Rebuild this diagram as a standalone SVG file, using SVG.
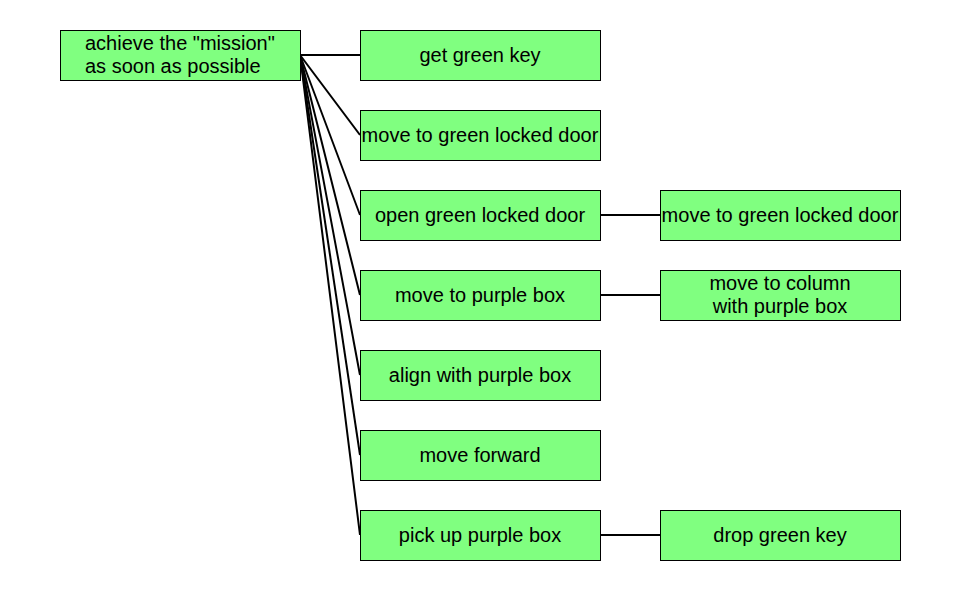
<svg xmlns="http://www.w3.org/2000/svg" width="960" height="590" viewBox="0 0 960 590">
<style>
.box{fill:#80ff80;stroke:#000;stroke-width:1}
text{font-family:"Liberation Sans",Arial,sans-serif;font-size:20px;fill:#000}
.c{text-anchor:middle}
.e{stroke:#000;stroke-width:2;fill:none}
</style>
<rect width="960" height="590" fill="#fff"/>
<g id="connectors">
<line class="e" x1="300" y1="55" x2="360" y2="55"/>
<line class="e" x1="300" y1="55" x2="360" y2="135"/>
<line class="e" x1="300" y1="55" x2="360" y2="215"/>
<line class="e" x1="300" y1="55" x2="360" y2="295"/>
<line class="e" x1="300" y1="55" x2="360" y2="375"/>
<line class="e" x1="300" y1="55" x2="360" y2="455"/>
<line class="e" x1="300" y1="55" x2="360" y2="535"/>
<line class="e" x1="600" y1="215" x2="660" y2="215"/>
<line class="e" x1="600" y1="295" x2="660" y2="295"/>
<line class="e" x1="600" y1="535" x2="660" y2="535"/>
</g>
<g id="root"><rect class="box" x="60.5" y="30.5" width="240" height="50"/><text x="85" y="50">achieve the "mission"</text><text x="85" y="73">as soon as possible</text></g>
<g id="n1"><rect class="box" x="360.5" y="30.5" width="240" height="50"/><text class="c" x="480" y="62">get green key</text></g>
<g id="n2"><rect class="box" x="360.5" y="110.5" width="240" height="50"/><text class="c" x="480" y="142">move to green locked door</text></g>
<g id="n3"><rect class="box" x="360.5" y="190.5" width="240" height="50"/><text class="c" x="480" y="222">open green locked door</text></g>
<g id="n4"><rect class="box" x="360.5" y="270.5" width="240" height="50"/><text class="c" x="480" y="302">move to purple box</text></g>
<g id="n5"><rect class="box" x="360.5" y="350.5" width="240" height="50"/><text class="c" x="480" y="382">align with purple box</text></g>
<g id="n6"><rect class="box" x="360.5" y="430.5" width="240" height="50"/><text class="c" x="480" y="462">move forward</text></g>
<g id="n7"><rect class="box" x="360.5" y="510.5" width="240" height="50"/><text class="c" x="480" y="542">pick up purple box</text></g>
<g id="n8"><rect class="box" x="660.5" y="190.5" width="240" height="50"/><text class="c" x="780" y="222">move to green locked door</text></g>
<g id="n9"><rect class="box" x="660.5" y="270.5" width="240" height="50"/><text class="c" x="780" y="290">move to column</text><text class="c" x="780" y="313">with purple box</text></g>
<g id="n10"><rect class="box" x="660.5" y="510.5" width="240" height="50"/><text class="c" x="780" y="542">drop green key</text></g>
</svg>
